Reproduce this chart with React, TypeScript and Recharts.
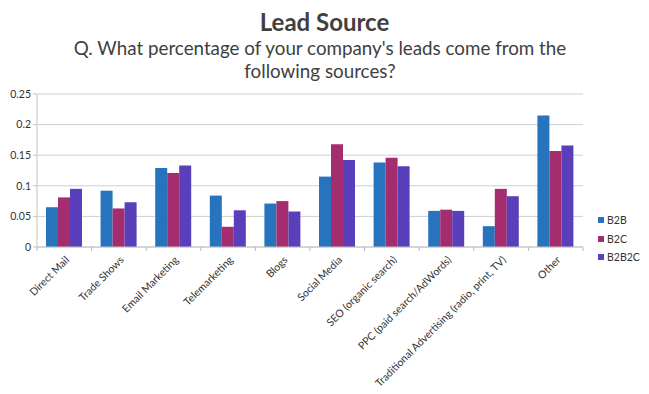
import React from "react";
import { BarChart, Bar, XAxis, YAxis, CartesianGrid, Legend } from "recharts";

const categories = [
  "Direct Mail",
  "Trade Shows",
  "Email Marketing",
  "Telemarketing",
  "Blogs",
  "Social Media",
  "SEO (organic search)",
  "PPC (paid search/AdWords)",
  "Traditional Advertising (radio, print, TV)",
  "Other",
];
const b2b = [0.065, 0.092, 0.129, 0.084, 0.071, 0.115, 0.138, 0.059, 0.034, 0.215];
const b2c = [0.081, 0.063, 0.121, 0.033, 0.075, 0.168, 0.146, 0.061, 0.095, 0.157];
const b2b2c = [0.095, 0.073, 0.133, 0.06, 0.058, 0.142, 0.132, 0.059, 0.083, 0.166];
const yTicks = [0, 0.05, 0.1, 0.15, 0.2, 0.25];
const seriesNames = ["B2B", "B2C", "B2B2C"];
const colors = ["#2773BE", "#A42D6F", "#5A3FBA"];

const data = categories.map((c, i) => ({ name: c, B2B: b2b[i], B2C: b2c[i], B2B2C: b2b2c[i] }));

const FONT = "Lato, 'Open Sans', sans-serif";

const XTick = (props: any) => {
  const { x, y, payload, index, width } = props;
  const band = (width || 546) / categories.length;
  const axisY = y - 8;
  const last = index === categories.length - 1;
  return (
    <g>
      <line x1={x - band / 2} x2={x - band / 2} y1={axisY} y2={axisY + 4} stroke="#b8b8b8" />
      {last && <line x1={x + band / 2} x2={x + band / 2} y1={axisY} y2={axisY + 4} stroke="#b8b8b8" />}
      <g transform={`translate(${x + 3},${y + 3}) rotate(-45)`}>
        <text x={0} y={0} dy="0.35em" textAnchor="end" fontSize={10.5} fill="#333" fontFamily={FONT}>
          {payload.value}
        </text>
      </g>
    </g>
  );
};

const LegendContent = () => (
  <div style={{ fontFamily: FONT, fontSize: 10.5, color: "#333" }}>
    {seriesNames.map((n, i) => (
      <div key={n} style={{ display: "flex", alignItems: "center", height: 18.5 }}>
        <span style={{ display: "inline-block", width: 6, height: 6, background: colors[i], marginRight: 3 }} />
        <span>{n}</span>
      </div>
    ))}
  </div>
);

export default function App() {
  return (
    <div style={{ position: "absolute", left: 0, top: 0, width: 649, height: 394, background: "#fff" }}>
      <div
        style={{
          position: "absolute",
          left: 0,
          width: 649,
          top: 7,
          textAlign: "center",
          fontFamily: FONT,
          fontWeight: 700,
          fontSize: 24,
          color: "#404040",
        }}
      >
        Lead Source
      </div>
      <div
        style={{
          position: "absolute",
          left: 0,
          width: 640,
          top: 36,
          textAlign: "center",
          fontFamily: FONT,
          fontSize: 18.8,
          lineHeight: "23px",
          color: "#404040",
        }}
      >
        Q. What percentage of your company's leads come from the
        <br />
        following sources?
      </div>
      <div style={{ position: "absolute", left: 0, top: 0 }}>
        <BarChart
          width={649}
          height={394}
          data={data}
          margin={{ top: 94, right: 66, bottom: 7, left: 7 }}
          barGap={0}
        >
          <CartesianGrid vertical={false} stroke="#cfcfcf" />
          <XAxis
            dataKey="name"
            interval={0}
            height={140}
            tick={<XTick />}
            tickLine={false}
            axisLine={{ stroke: "#c4c4c4" }}
          />
          <YAxis
            width={30}
            domain={[0, 0.25]}
            ticks={yTicks}
            tick={{ fontSize: 10.5, fill: "#333", fontFamily: FONT }}
            tickSize={4}
            tickMargin={2}
            tickLine={{ stroke: "#c4c4c4" }}
            axisLine={{ stroke: "#c4c4c4" }}
          />
          <Legend
            layout="vertical"
            align="center"
            verticalAlign="middle"
            content={<LegendContent />}
            wrapperStyle={{ position: "absolute", left: 598, top: 211, width: 50 }}
          />
          {seriesNames.map((n, i) => (
            <Bar key={n} dataKey={n} fill={colors[i]} barSize={12} isAnimationActive={false} />
          ))}
        </BarChart>
      </div>
    </div>
  );
}
